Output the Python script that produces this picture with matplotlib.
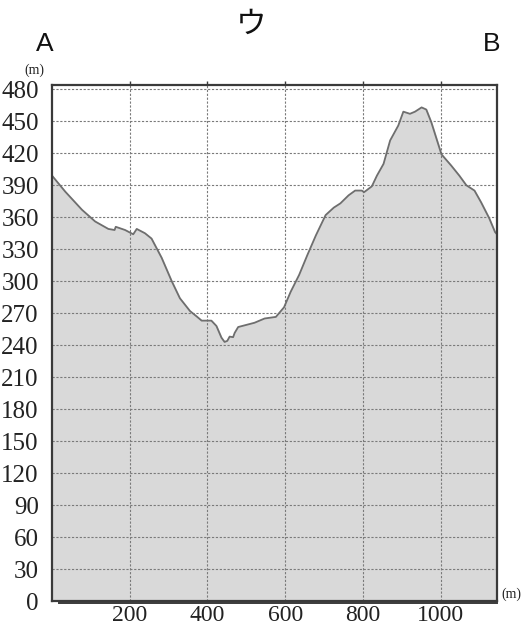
import numpy as np
import matplotlib
matplotlib.use("Agg")
import matplotlib.pyplot as plt

# distance from A (m) and elevation (m)
distance = [0, 34, 77, 111, 145, 161, 164, 188, 209, 218, 239, 256, 282, 308,
            329, 355, 372, 385, 410, 423, 436, 444, 451, 457, 466, 470, 479,
            500, 521, 547, 576, 597, 614, 636, 657, 679, 704, 725, 742, 763,
            780, 797, 803, 823, 836, 853, 870, 891, 904, 921, 934, 951, 963,
            976, 1002, 1027, 1048, 1066, 1087, 1104, 1125, 1140, 1145]
elevation = [399, 384, 367, 356, 349, 348, 351, 348, 344, 349, 345, 340, 322, 300,
             284, 272, 267, 263, 263, 258, 247, 243, 244, 248, 247.5, 251.5, 257,
             259, 261, 265, 266.5, 275.5, 290, 306, 324.5, 343, 362, 369, 373, 380.5,
             385, 385, 383.5, 389, 399, 410, 432, 446, 459, 457, 459, 463, 461,
             449, 419, 408.5, 399, 390, 385, 374, 359, 346, 344]

x_ticks = [200, 400, 600, 800, 1000]
y_ticks = list(range(0, 481, 30))

fig = plt.figure(figsize=(5.28, 6.26), dpi=100)
ax = fig.add_axes([0.0985, 0.0399, 0.8428, 0.8243])

ax.fill_between(distance, elevation, 0, color="#d9d9d9", zorder=1)
ax.plot(distance, elevation, color="#6e6e6e", lw=1.3, zorder=2)

ax.set_xlim(0, 1145)
ax.set_ylim(0, 484)
ax.set_xticks(x_ticks)
ax.set_yticks(y_ticks)
ax.grid(True, color="#7a7a7a", linestyle=(0, (2, 1.5)), linewidth=0.8, zorder=3)

for s in ax.spines.values():
    s.set_color("#3a3a3a")
    s.set_linewidth(1.6)
    s.set_zorder(4)

serif = "Liberation Serif"
ax.tick_params(axis="x", bottom=False, top=True, direction="out", length=3,
               width=1, color="#3a3a3a", labelbottom=True, pad=0)
ax.tick_params(axis="y", left=False, pad=6)
for lab in ax.get_xticklabels():
    lab.set_fontfamily(serif)
    lab.set_fontsize(17)
    lab.set_color("#222222")
    lab.set_bbox(dict(facecolor="white", edgecolor="none", pad=1.2))
for lab in ax.get_yticklabels():
    lab.set_fontfamily(serif)
    lab.set_fontsize(18)
    lab.set_color("#222222")

# second rule just under the base line, broken by the labels
ax.plot([17, 1145], [-0.004, -0.004], color="#3a3a3a", lw=1.4,
        transform=ax.get_xaxis_transform(), clip_on=False, zorder=0)

fig.text(34 / 528, 1 - 70 / 626, "(m)", family=serif, fontsize=10,
         ha="center", va="center", color="#222222")
fig.text(511 / 528, 1 - 594 / 626, "(m)", family=serif, fontsize=10,
         ha="center", va="center", color="#222222")
fig.text(45 / 528, 1 - 44 / 626, "A", family="Liberation Sans", fontsize=19,
         ha="center", va="center", color="#111111")
fig.text(492 / 528, 1 - 44 / 626, "B", family="Liberation Sans", fontsize=19,
         ha="center", va="center", color="#111111")
fig.text(251 / 528, 1 - 24 / 626, "ウ", family=["Noto Sans CJK JP", "DejaVu Sans"],
         fontsize=22, ha="center", va="center", color="#111111")

fig.savefig("out.png", dpi=100)
